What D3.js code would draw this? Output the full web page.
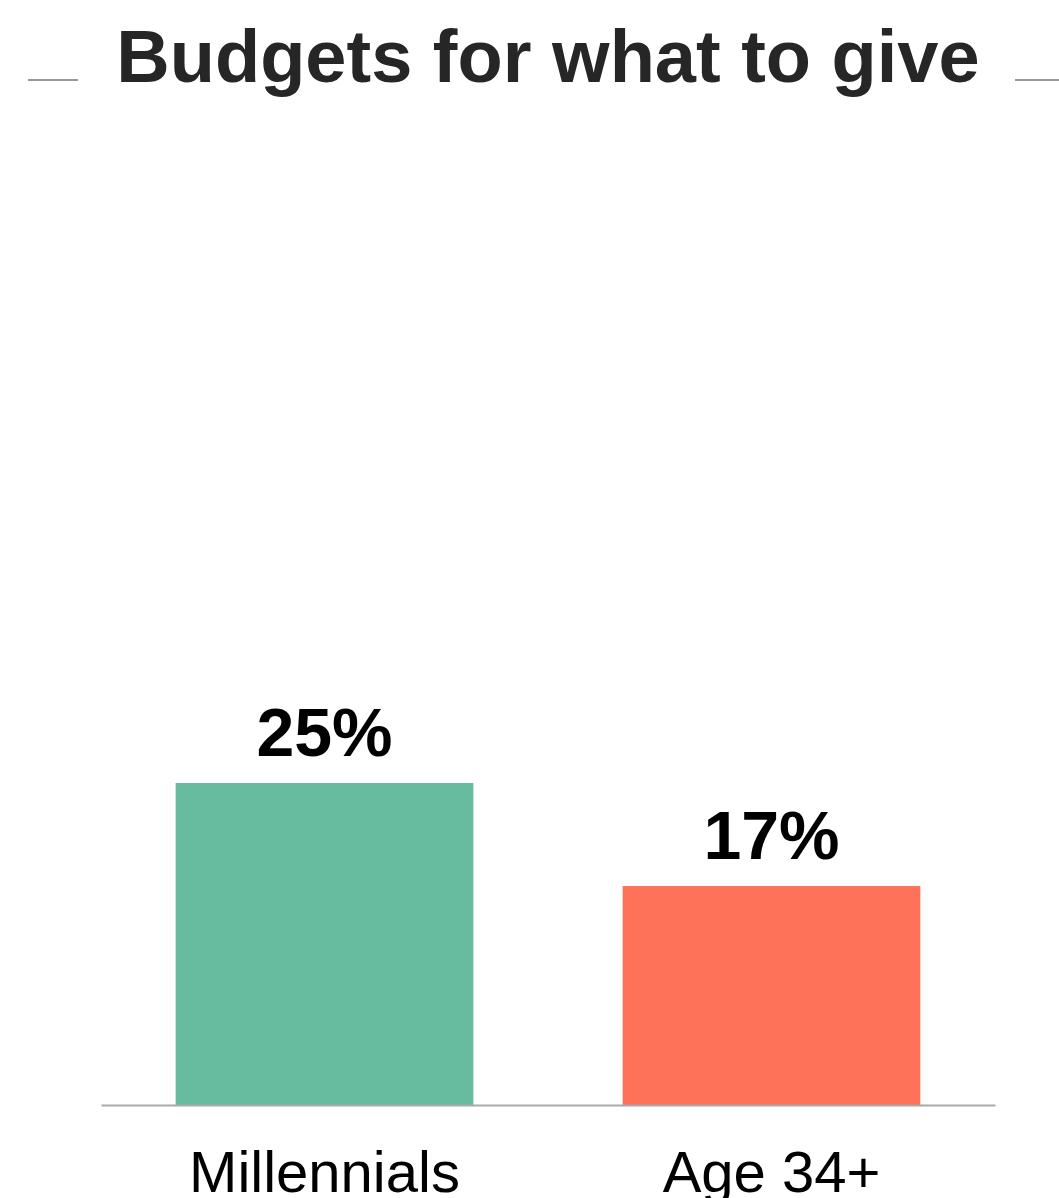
<!DOCTYPE html>
<html>
<head>
<meta charset="utf-8">
<script src="https://cdn.jsdelivr.net/npm/d3@7"></script>
<style>
  html, body { margin: 0; padding: 0; background: #fff; }
  svg { display: block; font-family: "Liberation Sans", Arial, sans-serif; }
</style>
</head>
<body>
<svg id="chart" width="1059" height="1198"></svg>
<script>
// Share of shoppers who set a budget for what to give
const categories = ["Millennials", "Age 34+"];
const values = [25, 17];
const colors = ["#67bc9f", "#fe725a"];
const titleText = "Budgets for what to give";

const W = 1059, H = 1198;
const svg = d3.select("#chart");

const x = d3.scaleBand()
  .domain(categories)
  .range([101, 995])
  .paddingInner(0.334)
  .paddingOuter(0.167);

const y = d3.scaleLinear()
  .domain([0, 50])
  .range([1105, 461]);

// Title with short rules on either side
svg.append("text")
  .attr("x", 548)
  .attr("y", 82)
  .attr("text-anchor", "middle")
  .attr("font-size", 74)
  .attr("font-weight", "bold")
  .attr("fill", "#262626")
  .text(titleText);

svg.append("line")
  .attr("x1", 28).attr("x2", 78).attr("y1", 80).attr("y2", 80)
  .attr("stroke", "#777").attr("stroke-width", 1.5);
svg.append("line")
  .attr("x1", 1015).attr("x2", 1059).attr("y1", 80).attr("y2", 80)
  .attr("stroke", "#777").attr("stroke-width", 1.5);

// Bars
svg.selectAll("rect.bar")
  .data(categories)
  .join("rect")
  .attr("class", "bar")
  .attr("x", d => x(d))
  .attr("width", x.bandwidth())
  .attr("y", (d, i) => y(values[i]))
  .attr("height", (d, i) => y(0) - y(values[i]))
  .attr("fill", (d, i) => colors[i]);

// Value labels above bars
svg.selectAll("text.value")
  .data(categories)
  .join("text")
  .attr("class", "value")
  .attr("x", d => x(d) + x.bandwidth() / 2)
  .attr("y", (d, i) => y(values[i]) - 27)
  .attr("text-anchor", "middle")
  .attr("font-size", 68)
  .attr("font-weight", "bold")
  .attr("fill", "#000")
  .text((d, i) => values[i] + "%");

// Baseline axis with category labels
const axis = d3.axisBottom(x).tickSize(0).tickPadding(0);
const gx = svg.append("g")
  .attr("transform", `translate(0,${y(0)})`)
  .call(axis);
gx.select(".domain")
  .attr("stroke", "#aaa")
  .attr("stroke-width", 2);
gx.selectAll(".tick text")
  .attr("font-family", "'Liberation Sans', Arial, sans-serif")
  .attr("font-size", 58)
  .attr("fill", "#000")
  .attr("dy", 0)
  .attr("y", 87);
</script>
</body>
</html>
